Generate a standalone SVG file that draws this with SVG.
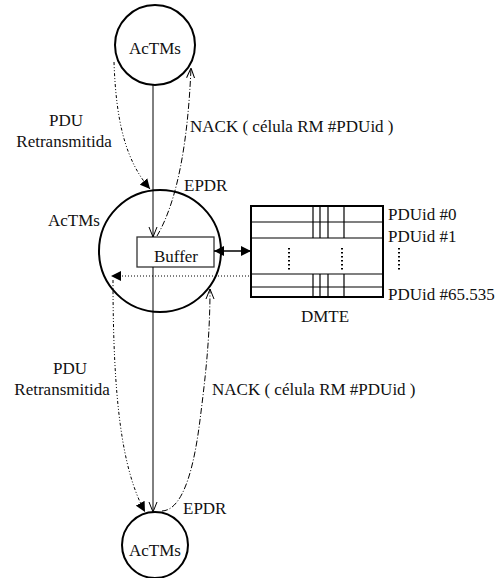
<svg xmlns="http://www.w3.org/2000/svg" width="499" height="578" viewBox="0 0 499 578">
<style>
text{font-family:"Liberation Serif","Times New Roman",serif;font-size:17px;fill:#111}
.node{fill:none;stroke:#000;stroke-width:2}
.solid{fill:none;stroke:#000;stroke-width:1}
.dd{fill:none;stroke:#000;stroke-width:1;stroke-dasharray:3,2,1,2,1,2}
.da{fill:none;stroke:#000;stroke-width:1;stroke-dasharray:6,2,1,2}
.dot{fill:none;stroke:#000;stroke-width:1;stroke-dasharray:1,2}
.grid{stroke:#000;stroke-width:1.2}
</style>
<defs>
<marker id="fill" viewBox="0 0 10 10" refX="10" refY="5" markerWidth="10" markerHeight="10" markerUnits="userSpaceOnUse" orient="auto-start-reverse">
<path d="M0,0 L10,5 L0,10 z" fill="#000"/>
</marker>
<marker id="open" viewBox="0 0 10 10" refX="10" refY="5" markerWidth="10" markerHeight="10" markerUnits="userSpaceOnUse" orient="auto">
<path d="M0,1 L10,5 L0,9" fill="none" stroke="#000" stroke-width="1"/>
</marker>
</defs>
<g id="top-node">
<circle class="node" cx="155" cy="45" r="40"/>
<text x="155" y="54" text-anchor="middle">AcTMs</text>
</g>
<g id="middle-node">
<circle class="node" cx="160" cy="251" r="61"/>
<text x="48" y="226">AcTMs</text>
<rect x="137" y="237" width="77" height="30" fill="#fff" stroke="#333" stroke-width="1.3"/>
<text x="176" y="262" text-anchor="middle">Buffer</text>
</g>
<g id="bottom-node">
<circle class="node" cx="155" cy="545" r="33"/>
<text x="155" y="556" text-anchor="middle">AcTMs</text>
</g>
<g id="dmte">
<rect x="251" y="206" width="132" height="91" fill="none" stroke="#000" stroke-width="2"/>
<line class="grid" x1="251" y1="222" x2="383" y2="222"/>
<line class="grid" x1="251" y1="238" x2="383" y2="238"/>
<line class="grid" x1="251" y1="274" x2="383" y2="274"/>
<line class="grid" x1="251" y1="287" x2="383" y2="287"/>
<g class="grid">
<line x1="313" y1="206" x2="313" y2="238"/><line x1="320" y1="206" x2="320" y2="238"/><line x1="328" y1="206" x2="328" y2="238"/><line x1="344" y1="206" x2="344" y2="238"/>
<line x1="313" y1="274" x2="313" y2="297"/><line x1="320" y1="274" x2="320" y2="297"/><line x1="328" y1="274" x2="328" y2="297"/><line x1="344" y1="274" x2="344" y2="297"/>
</g>
<g stroke="#000" stroke-width="2" stroke-dasharray="1.5,2.5">
<line x1="289" y1="248" x2="289" y2="271"/>
<line x1="342" y1="248" x2="342" y2="271"/>
<line x1="399" y1="248" x2="399" y2="271"/>
</g>
<text x="388" y="220">PDUid #0</text>
<text x="388" y="242">PDUid #1</text>
<text x="388" y="300">PDUid #65.535</text>
<text x="325" y="322" text-anchor="middle">DMTE</text>
</g>
<g id="connectors">
<line class="solid" x1="153" y1="85" x2="153" y2="237" marker-end="url(#open)"/>
<line class="solid" x1="153" y1="267" x2="153" y2="512" marker-end="url(#open)"/>
<path class="dd" d="M114,62 C116,120 125,160 150,189" marker-end="url(#fill)"/>
<path class="da" d="M157,236 C178,200 188,140 191,68" marker-end="url(#open)"/>
<line x1="214" y1="251" x2="251" y2="251" stroke="#000" stroke-width="1.5" marker-start="url(#fill)" marker-end="url(#fill)"/>
<line class="dot" x1="249" y1="276" x2="111" y2="276" marker-end="url(#fill)"/>
<path class="dd" d="M113,280 C113,400 122,470 145,512" marker-end="url(#fill)"/>
<path class="da" d="M162,511 C185,510 195,460 200,420 C205,380 210,340 210,289" marker-end="url(#open)"/>
</g>
<g id="labels">
<text x="66" y="126" text-anchor="middle">PDU</text>
<text x="64" y="147" text-anchor="middle">Retransmitida</text>
<text x="190" y="132">NACK ( célula RM #PDUid )</text>
<text x="184" y="191">EPDR</text>
<text x="70" y="374" text-anchor="middle">PDU</text>
<text x="62" y="395" text-anchor="middle">Retransmitida</text>
<text x="212" y="395">NACK ( célula RM #PDUid )</text>
<text x="183" y="514">EPDR</text>
</g>
</svg>
